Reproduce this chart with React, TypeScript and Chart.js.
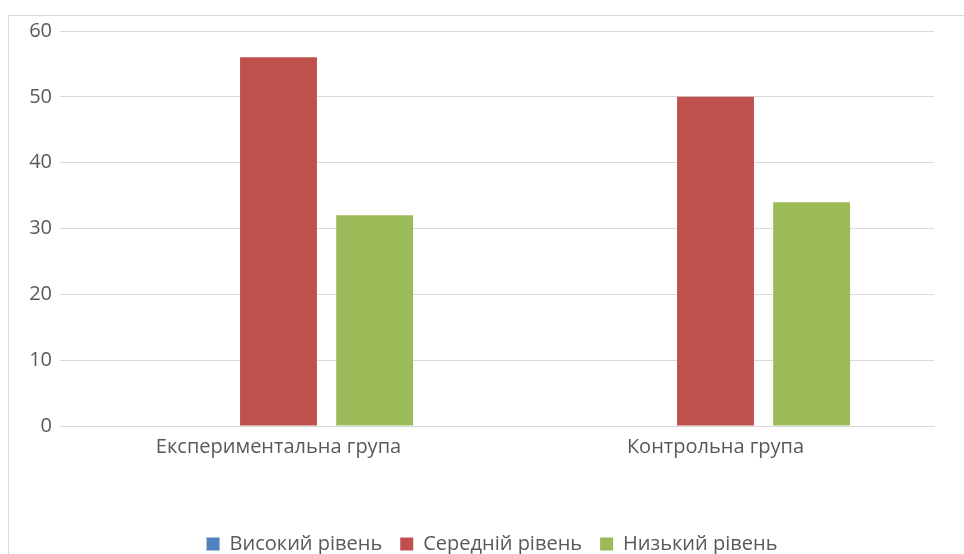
import React, { useEffect, useRef } from "react";
import { Chart, registerables } from "chart.js";

Chart.register(...registerables);

const categories = ["Експериментальна група", "Контрольна група"];
const seriesNames = ["Високий рівень", "Середній рівень", "Низький рівень"];
const highValues = [0, 0];
const midValues = [56, 50];
const lowValues = [32, 34];
const seriesColors = ["#4F81BD", "#C0504D", "#9BBB59"];
const yTicksMin = 0;
const yTicksMax = 60;
const yStep = 10;

const legendShift = {
  id: "legendShift",
  afterLayout(chart: any) {
    if (chart.legend) {
      chart.legend.left += 25;
      chart.legend.right += 25;
    }
  },
};

export default function App() {
  const ref = useRef<HTMLCanvasElement | null>(null);
  useEffect(() => {
    document.body.style.margin = "0";
    const ctx = ref.current!;
    const font = "'Open Sans', 'DejaVu Sans', sans-serif";
    const chart = new Chart(ctx, {
      type: "bar",
      data: {
        labels: categories,
        datasets: [highValues, midValues, lowValues].map((d, i) => ({
          label: seriesNames[i],
          data: d,
          backgroundColor: seriesColors[i],
          borderWidth: 0,
          categoryPercentage: 0.66,
          barPercentage: 0.8,
        })),
      },
      plugins: [legendShift],
      options: {
        animation: false,
        responsive: false,
        maintainAspectRatio: false,
        layout: { padding: { top: 31, right: 30, left: 0, bottom: -10 } },
        plugins: {
          tooltip: { enabled: false },
          legend: {
            position: "bottom",
            labels: {
              boxWidth: 13,
              boxHeight: 13,
              padding: 18,
              color: "#595959",
              font: { family: font, size: 20 },
            },
          },
        },
        scales: {
          x: {
            grid: { display: false, drawTicks: false },
            border: { color: "#d9d9d9", width: 1 },
            ticks: { color: "#595959", font: { family: font, size: 20 }, padding: 9 },
            afterFit: (s: any) => { s.height = 90; },
          },
          y: {
            min: yTicksMin,
            max: yTicksMax,
            grid: { color: "#d9d9d9", drawTicks: false },
            border: { display: false },
            ticks: { stepSize: yStep, color: "#595959", font: { family: font, size: 20 }, padding: 8 },
            afterFit: (s: any) => { s.width = 60; },
          },
        },
      },
    });
    return () => chart.destroy();
  }, []);
  return (
    <div style={{ position: "relative", width: 964, height: 554, overflow: "hidden", background: "#fff" }}>
      <div style={{ position: "absolute", left: 8, top: 15, width: 970, height: 600, border: "1px solid #d9d9d9" }} />
      <canvas ref={ref} width={964} height={554} style={{ position: "absolute", left: 0, top: 0 }} />
    </div>
  );
}
